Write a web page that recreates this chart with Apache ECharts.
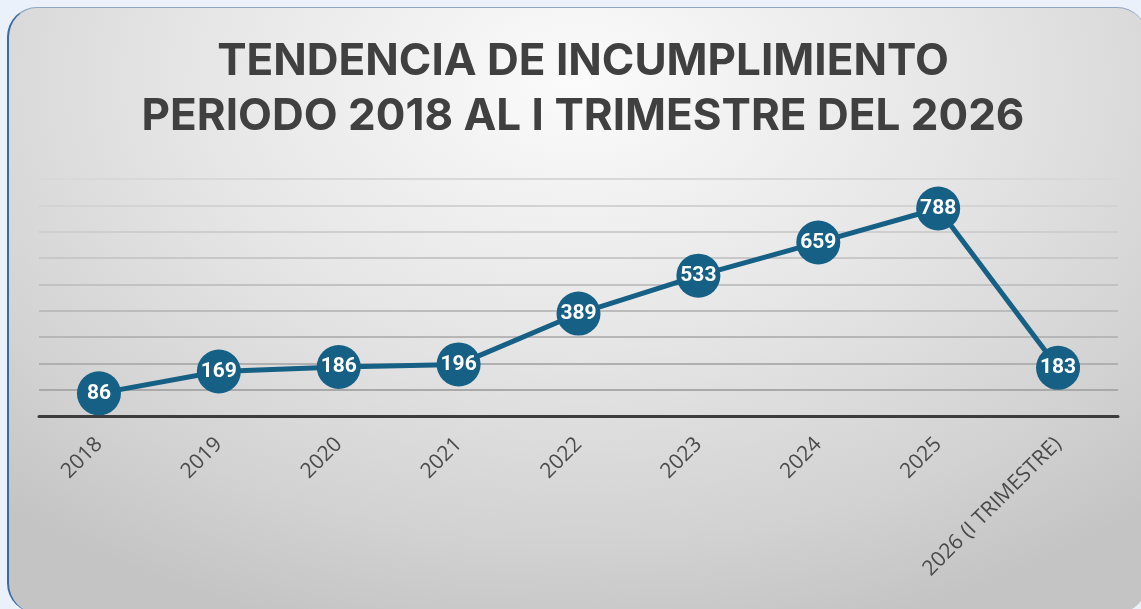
<!DOCTYPE html>
<html>
<head>
<meta charset="utf-8">
<script src="https://cdn.jsdelivr.net/npm/echarts@6/dist/echarts.min.js"></script>
<style>
html,body{margin:0;padding:0;width:1141px;height:609px;overflow:hidden;background:#eaf1fb;}
#card{position:absolute;left:7px;top:7px;width:1140px;height:606px;box-sizing:border-box;border-radius:30px;
 border-left:2px solid #3a6aa3;border-top:1.5px solid #8fa6c4;
 background:radial-gradient(ellipse 75% 95% at 50% 12%, #fbfbfb 0%, #e6e6e6 45%, #d2d2d2 80%, #c4c4c4 100%);}
#chart{position:absolute;left:0;top:0;width:1141px;height:609px;}
</style>
</head>
<body>
<div id="card"></div>
<div id="chart"></div>
<script>
const titleLines = ['TENDENCIA DE INCUMPLIMIENTO', 'PERIODO 2018 AL I TRIMESTRE DEL 2026'];
const categories = ['2018', '2019', '2020', '2021', '2022', '2023', '2024', '2025', '2026 (I TRIMESTRE)'];
const values = [86, 169, 186, 196, 389, 533, 659, 788, 183];
const yMin = 0, yMax = 900, yStep = 100;
const gridColors = ['#9a9a9a', '#a9a9a9', '#b0b0b0', '#b6b6b6', '#bcbcbc', '#c2c2c2', '#c8c8c8', '#cecece', '#d3d3d3', '#d8d8d8'];

const chart = echarts.init(document.getElementById('chart'), null, {renderer: 'canvas'});
chart.setOption({
  backgroundColor: 'transparent',
  animation: false,
  title: {
    text: titleLines.join('\n'),
    left: 578, top: 29, textAlign: 'center',
    textStyle: {fontFamily: 'Inter', fontWeight: 'bold', fontSize: 44, lineHeight: 55, color: '#404040'}
  },
  grid: {left: 39, right: 23, top: 179, bottom: 193, containLabel: false},
  xAxis: {
    type: 'category', data: categories, boundaryGap: true,
    axisLine: {show: true, lineStyle: {color: '#3c3c3c', width: 3}},
    axisTick: {show: false},
    axisLabel: {rotate: 45, margin: 25, fontFamily: 'Open Sans', fontSize: 21, color: '#4a4a4a', interval: 0}
  },
  yAxis: {
    type: 'value', min: yMin, max: yMax, interval: yStep,
    axisLine: {show: false}, axisTick: {show: false}, axisLabel: {show: false},
    splitLine: {show: true, lineStyle: {color: gridColors, width: 2}}
  },
  series: [{
    type: 'line', data: values,
    symbol: 'circle', symbolSize: 44,
    lineStyle: {color: '#176085', width: 5},
    itemStyle: {color: '#176085'},
    label: {show: true, position: 'inside', color: '#ffffff', fontFamily: 'Roboto', fontWeight: 'bold', fontSize: 21}
  }]
});
</script>
</body>
</html>
